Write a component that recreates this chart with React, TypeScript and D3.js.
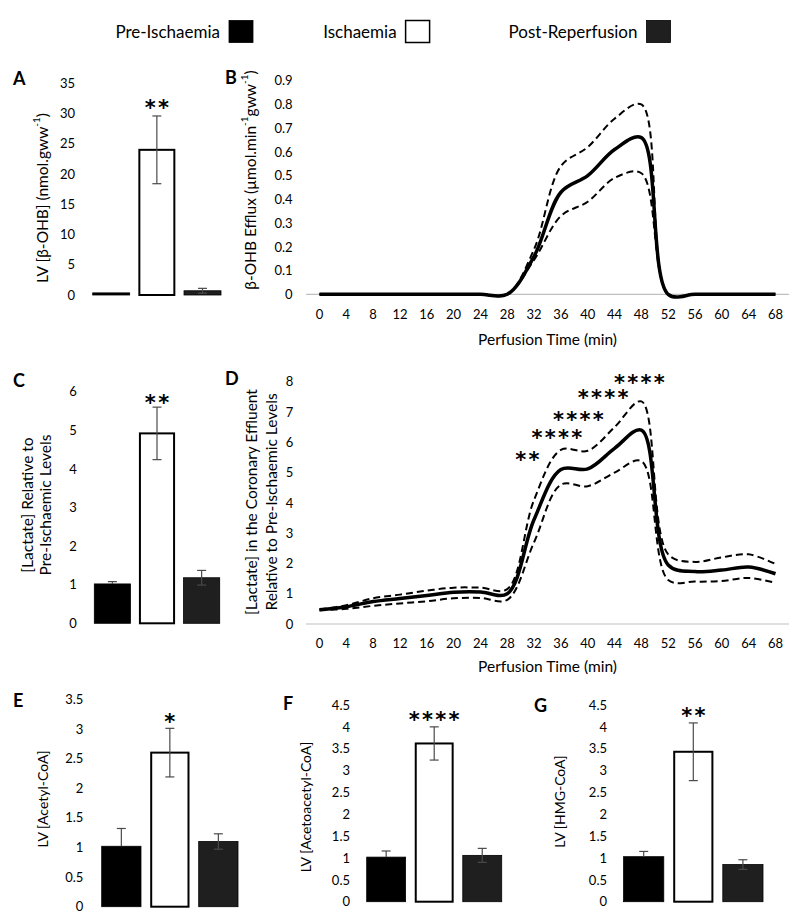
import React from 'react';
import * as d3 from 'd3';

// ---------- data ----------
const groups = ['Pre-Ischaemia', 'Ischaemia', 'Post-Reperfusion'];
const groupFills = ['#000000', '#ffffff', '#1f1f1f'];

const bohbLvMeans = [0.35, 24.0, 0.7];
const bohbLvErr = [0.0, 5.6, 0.4];
const lactateMeans = [1.02, 4.92, 1.18];
const lactateErr = [0.06, 0.68, 0.19];
const acetylMeans = [1.02, 2.6, 1.1];
const acetylErr = [0.3, 0.41, 0.13];
const acetoacetylMeans = [1.02, 3.62, 1.06];
const acetoacetylErr = [0.14, 0.38, 0.16];
const hmgMeans = [1.03, 3.43, 0.85];
const hmgErr = [0.12, 0.66, 0.11];

const times = [0, 4, 8, 12, 16, 20, 24, 28, 32, 36, 40, 44, 48, 52, 56, 60, 64, 68];
const bohbMean = [0, 0, 0, 0, 0, 0, 0, 0, 0.16, 0.43, 0.5, 0.61, 0.66, 0, 0, 0, 0, 0];
const bohbUpper = [0, 0, 0, 0, 0, 0, 0, 0, 0.19, 0.54, 0.62, 0.74, 0.8, 0, 0, 0, 0, 0];
const bohbLower = [0, 0, 0, 0, 0, 0, 0, 0, 0.145, 0.33, 0.39, 0.49, 0.51, 0, 0, 0, 0, 0];

const lacMean = [0.47, 0.57, 0.74, 0.84, 0.94, 1.05, 1.06, 1.0, 3.45, 5.1, 5.12, 5.8, 6.4, 1.95, 1.73, 1.78, 1.88, 1.66];
const lacUpper = [0.48, 0.62, 0.85, 0.97, 1.1, 1.2, 1.2, 1.15, 4.1, 5.75, 5.72, 6.5, 7.35, 2.3, 2.05, 2.2, 2.3, 1.98];
const lacLower = [0.45, 0.5, 0.6, 0.68, 0.75, 0.85, 0.86, 0.8, 2.7, 4.6, 4.55, 5.0, 5.38, 1.45, 1.4, 1.42, 1.52, 1.36];

const lacStarTimes = [31, 35.4, 38.6, 42.3, 47.7];
const lacStarLevels = [5.55, 6.3, 6.9, 7.6, 8.1];
const lacStarLabels = ['**', '****', '****', '****', '****'];

const bohbTicks = [0, 0.1, 0.2, 0.3, 0.4, 0.5, 0.6, 0.7, 0.8, 0.9];
const lacTicks = [0, 1, 2, 3, 4, 5, 6, 7, 8];
const timeTicks = times;

// ---------- style ----------
const FONT = "Lato, 'Open Sans', sans-serif";
const STAR_FONT = "'DejaVu Sans', sans-serif";
const TICK_FS = 13;
const TITLE_FS = 15.5;
const SMALL_TITLE_FS = 14;
const STAR_FS = 21;
const STAR_LS = 2.3;

function Stars({ x, y, text }: { x: number; y: number; text: string }) {
  return (
    <text x={x + STAR_LS / 2} y={y + STAR_FS * 0.55} textAnchor="middle" fontFamily={STAR_FONT}
      fontSize={STAR_FS} letterSpacing={STAR_LS} fontWeight="bold" fill="#000">{text}</text>
  );
}

function Letter({ x, y, t }: { x: number; y: number; t: string }) {
  return <text x={x} y={y} fontFamily={FONT} fontWeight="bold" fontSize={18}>{t}</text>;
}

function RotTitle({ x, y, children, fs = TITLE_FS }: any) {
  return (
    <text transform={`translate(${x},${y}) rotate(-90)`} textAnchor="middle" dominantBaseline="central"
      fontFamily={FONT} fontSize={fs} fill="#000">{children}</text>
  );
}

type BarProps = {
  letter: string; lx: number; ly: number;
  means: number[]; errs: number[];
  yMax: number; yStep: number; y0: number; yTop: number;
  xStart: number; xEnd: number; tickRight: number;
  stars: string; starY: number;
  title: React.ReactNode;
};

function BarPanel(p: BarProps) {
  const y = d3.scaleLinear().domain([0, p.yMax]).range([p.y0, p.yTop]);
  const x = d3.scaleBand<string>().domain(groups).range([p.xStart, p.xEnd]).paddingInner(0.19).paddingOuter(0);
  const ticks = d3.range(0, p.yMax + p.yStep / 2, p.yStep);
  const fmt = (v: number) => String(+v.toFixed(1));
  const bw = x.bandwidth();
  return (
    <g>
      <Letter x={p.lx} y={p.ly} t={p.letter} />
      {ticks.map((t) => (
        <text key={t} x={p.tickRight} y={y(t)} dy="0.36em" textAnchor="end" fontFamily={FONT} fontSize={TICK_FS}>{fmt(t)}</text>
      ))}
      {groups.map((g, i) => {
        const top = y(p.means[i]);
        const isWhite = i === 1;
        return (
          <rect key={g} x={x(g)! + (isWhite ? 1 : 0)} y={top} width={bw - (isWhite ? 2 : 0)} height={p.y0 - top}
            fill={groupFills[i]} stroke="#000" strokeWidth={isWhite ? 2 : 0.8} />
        );
      })}
      {groups.map((g, i) => {
        if (!p.errs[i]) return null;
        const cx = x(g)! + bw / 2;
        const yt = y(p.means[i] + p.errs[i]);
        const yb = y(p.means[i] - p.errs[i]);
        const ym = y(p.means[i]);
        const showLower = i !== 0;
        return (
          <g key={g + 'e'} stroke="#4a4a4a" strokeWidth={1.2}>
            <line x1={cx} x2={cx} y1={yt} y2={showLower ? yb : ym} />
            <line x1={cx - 4.5} x2={cx + 4.5} y1={yt} y2={yt} />
            {showLower && <line x1={cx - 4.5} x2={cx + 4.5} y1={yb} y2={yb} />}
          </g>
        );
      })}
      <Stars x={x(groups[1])! + bw / 2} y={p.starY} text={p.stars} />
      {p.title}
    </g>
  );
}

type LineProps = {
  letter: string; lx: number; ly: number;
  yMax: number; yTicks: number[]; y0: number; yTop: number; tickRight: number;
  mean: number[]; upper: number[]; lower: number[];
  xTickY: number; xTitleY: number;
  title: React.ReactNode;
  children?: React.ReactNode;
};

function LinePanel(p: LineProps) {
  const x = d3.scaleLinear().domain([0, 68]).range([319.5, 775.5]);
  const y = d3.scaleLinear().domain([0, p.yMax]).range([p.y0, p.yTop]);
  const line = d3.line<number>().x((_, i) => x(times[i])).y((d) => y(d)).curve(d3.curveCatmullRom.alpha(0.5));
  const fmt = (v: number) => String(+v.toFixed(1));
  return (
    <g>
      <Letter x={p.lx} y={p.ly} t={p.letter} />
      {p.yTicks.map((t) => (
        <text key={t} x={p.tickRight} y={y(t)} dy="0.36em" textAnchor="end" fontFamily={FONT} fontSize={TICK_FS}>{fmt(t)}</text>
      ))}
      <line x1={x(-2)} x2={x(70)} y1={y(0)} y2={y(0)} stroke="#bfbfbf" strokeWidth={1.2} />
      {timeTicks.map((t) => (
        <text key={t} x={x(t)} y={p.xTickY} dy="0.36em" textAnchor="middle" fontFamily={FONT} fontSize={TICK_FS}>{t}</text>
      ))}
      <text x={(x(0) + x(68)) / 2} y={p.xTitleY} dy="0.36em" textAnchor="middle" fontFamily={FONT} fontSize={TITLE_FS}>Perfusion Time (min)</text>
      <path d={line(p.upper)!} fill="none" stroke="#000" strokeWidth={2} strokeDasharray="7,4" />
      <path d={line(p.lower)!} fill="none" stroke="#000" strokeWidth={2} strokeDasharray="7,4" />
      <path d={line(p.mean)!} fill="none" stroke="#000" strokeWidth={3.5} />
      {p.title}
      {p.children}
    </g>
  );
}

export default function App() {
  const dx = d3.scaleLinear().domain([0, 68]).range([319.5, 775.5]);
  const dy = d3.scaleLinear().domain([0, 8]).range([624, 381.7]);
  const legendSq = [229, 405.6, 646.5];
  const sup = (s: string) => <tspan baselineShift="super" fontSize={10}>{s}</tspan>;
  return (
    <svg width={792} height={916} style={{ position: 'absolute', left: 0, top: 0, background: '#fff' }}>
      <rect width={792} height={916} fill="#fff" />
      {/* legend */}
      {groups.map((g, i) => (
        <g key={g}>
          <text x={legendSq[i] - 9} y={32} dy="0.36em" textAnchor="end" fontFamily={FONT} fontSize={17}>{g}</text>
          <rect x={legendSq[i]} y={20.5} width={24} height={22} fill={groupFills[i]} stroke="#000" strokeWidth={i === 1 ? 1.5 : 0.8} />
        </g>
      ))}

      <BarPanel letter="A" lx={13} ly={85} means={bohbLvMeans} errs={bohbLvErr} yMax={35} yStep={5}
        y0={295} yTop={83.3} xStart={92.7} xEnd={221} tickRight={75} stars="**" starY={103}
        title={<RotTitle x={41.7} y={198}>LV [β-OHB] (nmol.gww{sup('-1')})</RotTitle>} />

      <LinePanel letter="B" lx={225} ly={84} yMax={0.9} yTicks={bohbTicks} y0={294.3} yTop={80.7} tickRight={292.6}
        mean={bohbMean} upper={bohbUpper} lower={bohbLower} xTickY={314} xTitleY={339}
        title={<RotTitle x={250} y={180}>β-OHB Efflux (µmol.min{sup('-1')}gww{sup('-1')})</RotTitle>} />

      <BarPanel letter="C" lx={13} ly={387} means={lactateMeans} errs={lactateErr} yMax={6} yStep={1}
        y0={623.3} yTop={391.7} xStart={94.3} xEnd={219.7} tickRight={76.7} stars="**" starY={398}
        title={<g>
          <RotTitle x={26.7} y={505}>[Lactate] Relative to</RotTitle>
          <RotTitle x={45} y={505}>Pre-Ischaemic Levels</RotTitle>
        </g>} />

      <LinePanel letter="D" lx={225} ly={385} yMax={8} yTicks={lacTicks} y0={624} yTop={381.7} tickRight={293.3}
        mean={lacMean} upper={lacUpper} lower={lacLower} xTickY={643.5} xTitleY={666.7}
        title={<g>
          <RotTitle x={251.2} y={502}>[Lactate] in the Coronary Effluent</RotTitle>
          <RotTitle x={271.4} y={502}>Relative to Pre-Ischaemic Levels</RotTitle>
        </g>}>
        <text textAnchor="middle" fontFamily={STAR_FONT} fontSize={STAR_FS} letterSpacing={STAR_LS} fontWeight="bold" fill="#000">
          {lacStarTimes.map((t, i) => (
            <tspan key={i} x={dx(t) + STAR_LS / 2} y={dy(lacStarLevels[i]) + STAR_FS * 0.55}>{lacStarLabels[i]}</tspan>
          ))}
        </text>
      </LinePanel>

      <BarPanel letter="E" lx={13} ly={707} means={acetylMeans} errs={acetylErr} yMax={3.5} yStep={0.5}
        y0={906.7} yTop={699.3} xStart={101.7} xEnd={238} tickRight={83.3} stars="*" starY={717.7}
        title={<RotTitle x={42.8} y={799} fs={SMALL_TITLE_FS}>LV [Acetyl-CoA]</RotTitle>} />

      <BarPanel letter="F" lx={283} ly={710} means={acetoacetylMeans} errs={acetoacetylErr} yMax={4.5} yStep={0.5}
        y0={901.7} yTop={705} xStart={366.7} xEnd={501.7} tickRight={350} stars="****" starY={715}
        title={<RotTitle x={305} y={807} fs={SMALL_TITLE_FS}>LV [Acetoacetyl-CoA]</RotTitle>} />

      <BarPanel letter="G" lx={534} ly={712} means={hmgMeans} errs={hmgErr} yMax={4.5} yStep={0.5}
        y0={901.7} yTop={705} xStart={623.6} xEnd={763} tickRight={607} stars="**" starY={711.7}
        title={<RotTitle x={559} y={801.6} fs={SMALL_TITLE_FS}>LV [HMG-CoA]</RotTitle>} />
    </svg>
  );
}
